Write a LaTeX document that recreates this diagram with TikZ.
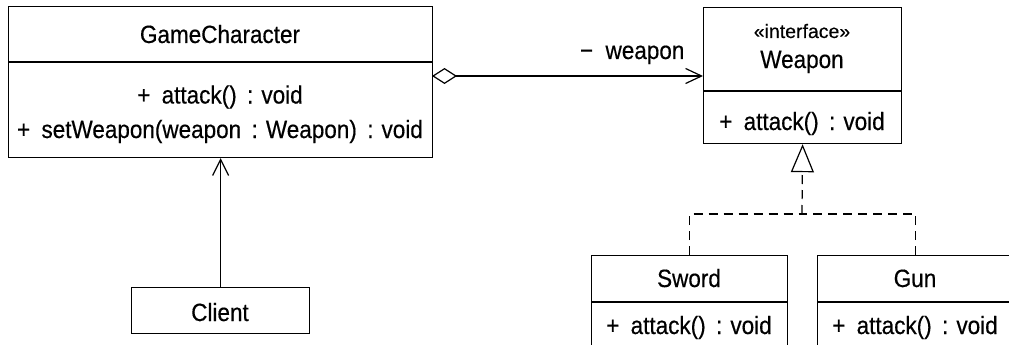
\documentclass[tikz,border=0pt]{standalone}
\usepackage{fontspec}
\setmainfont{Liberation Sans}
\newfontfamily\narrowsans[FakeStretch=0.9,FakeBold=0.4]{Liberation Sans}
\newfontfamily\labelsans[FakeBold=0.3]{Liberation Sans}
\usetikzlibrary{arrows.meta}
\newcommand\sig{\hspace{0.42em}:\hspace{0.32em}}
\newcommand\vis[1]{#1\hspace{0.45em}}
\begin{document}
\begin{tikzpicture}[x=1pt,y=-1pt,line width=1.2pt,
  box/.style={draw,anchor=north west,inner sep=0pt},
  txt/.style={anchor=base,inner sep=0pt,font=\narrowsans\fontsize{25}{29}\selectfont},
  small/.style={anchor=base,inner sep=0pt,font=\labelsans\fontsize{19.5}{23}\selectfont},
  barb/.style={-{Straight Barb[length=16pt,width=16pt]}},
  agg/.style={{Diamond[open,length=25pt,width=16pt]}-{Straight Barb[length=16pt,width=15pt]}},
  real/.style={dash pattern=on 9pt off 6pt}]
\useasboundingbox (0,0) rectangle (1009,345);
\clip (0,0) rectangle (1009,345);

% GameCharacter class
\node[box,minimum width=424pt,minimum height=151pt] (gc) at (8,6) {};
\draw (8,62) -- (432,62);
\node[txt] (gcname) at (220,43) {GameCharacter};
\node[txt] (gcop1) at (220,103.5) {\vis{+}attack()\sig void};
\node[txt] (gcop2) at (220,138) {\vis{+}setWeapon(weapon\sig Weapon)\sig void};

% Weapon interface
\node[box,minimum width=198pt,minimum height=136pt] (wp) at (703,7) {};
\draw (703,91) -- (901,91);
\node[small] (wpst) at (802,38) {«interface»};
\node[txt] (wpname) at (802,68) {Weapon};
\node[txt] (wpop) at (802,130) {\vis{+}attack()\sig void};

% Sword and Gun
\node[box,minimum width=196pt,minimum height=100pt] (sw) at (591,255) {};
\draw (591,302) -- (787,302);
\node[txt] (swname) at (689,287) {Sword};
\node[txt] (swop) at (689,334) {\vis{+}attack()\sig void};

\node[box,minimum width=196pt,minimum height=100pt] (gn) at (817,255) {};
\draw (817,302) -- (1013,302);
\node[txt] (gnname) at (915,287) {Gun};
\node[txt] (gnop) at (915,334) {\vis{+}attack()\sig void};

% Client
\node[box,minimum width=178pt,minimum height=46pt] (cl) at (131,287) {};
\node[txt] (clname) at (220,321) {Client};

% relations
\draw[barb] (cl.north) -- (cl.north |- gc.south);
\coordinate (aggstart) at (432,76);
\coordinate (aggend) at (703,76);
\draw[agg] (aggstart) -- (aggend);
\node[txt,anchor=base east] (role) at (685,59) {−\hspace{0.5em}weapon};

\coordinate (join) at (802,214);
\draw[real] (sw.north) |- (join);
\draw[real] (gn.north) |- (join);
\draw[real,-{Triangle[open,length=28pt,width=23pt]}] (join) -- (wp.south);
\end{tikzpicture}
\end{document}
